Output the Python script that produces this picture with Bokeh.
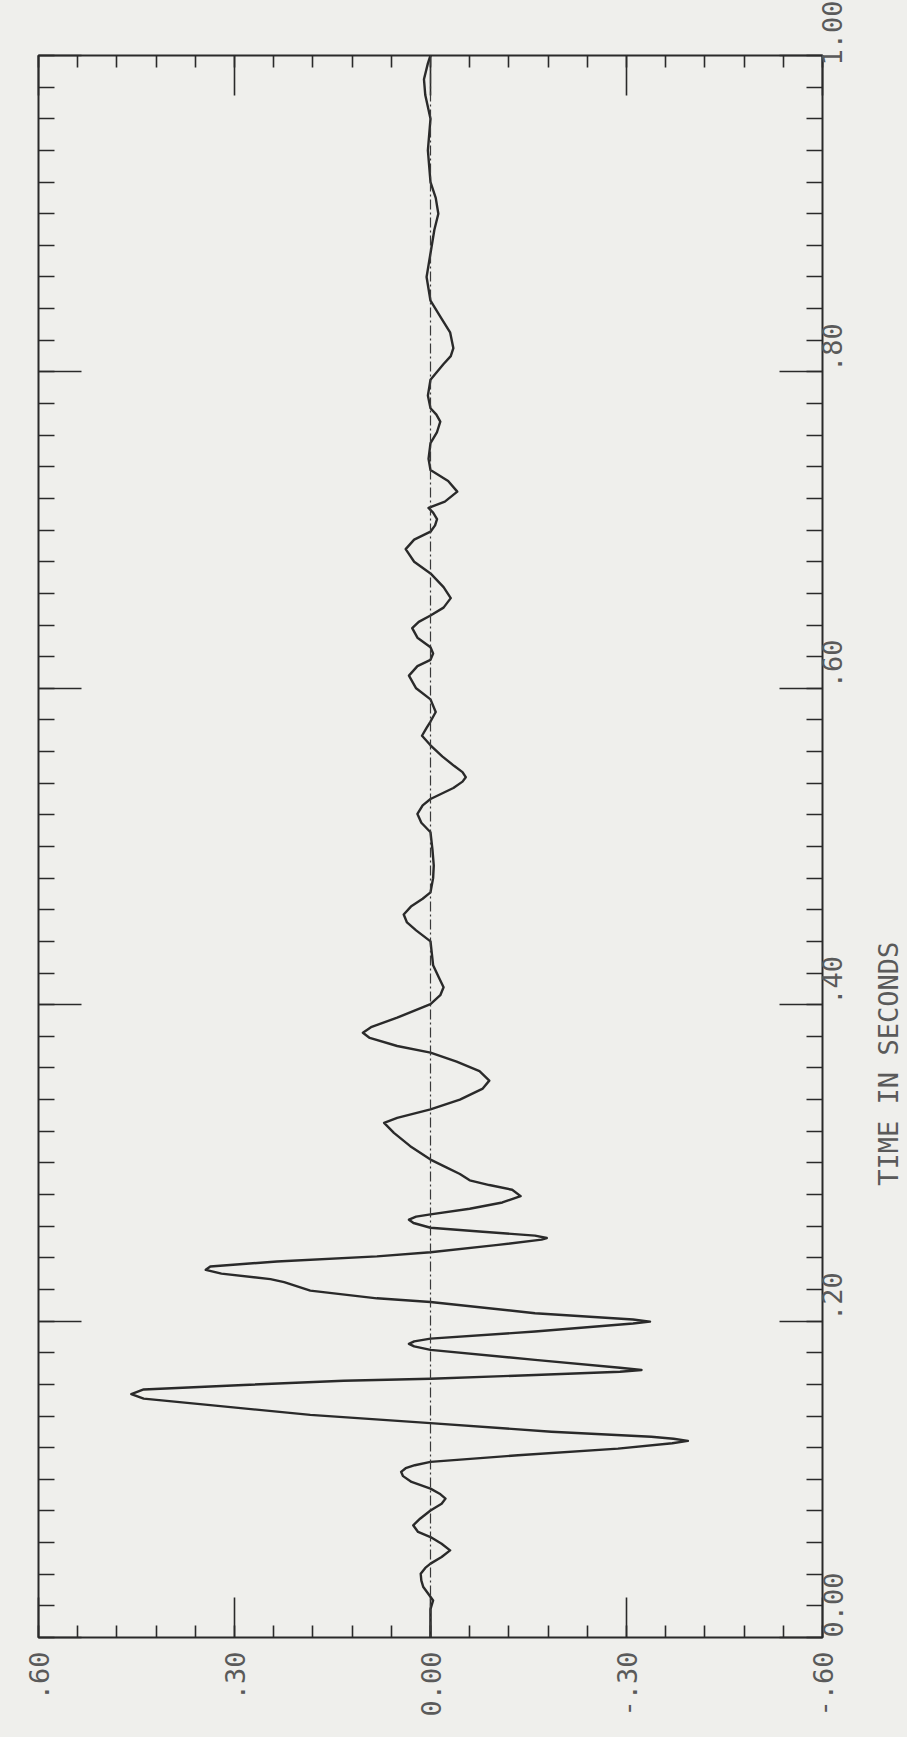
import math

from bokeh.core.properties import value
from bokeh.embed import file_html
from bokeh.layouts import row
from bokeh.models import FixedTicker, LinearAxis, Range1d, Span
from bokeh.plotting import figure
from bokeh.resources import INLINE

# Response trace: time (s) and amplitude, read point by point from the record
time_s = [
    0.0000, 0.0180, 0.0234, 0.0280, 0.0319, 0.0360, 0.0403, 0.0440, 0.0467, 0.0509,
    0.0551, 0.0593, 0.0635, 0.0667, 0.0709, 0.0751, 0.0803, 0.0845, 0.0878, 0.0909,
    0.0941, 0.0983, 0.1020, 0.1047, 0.1070, 0.1089, 0.1110, 0.1152, 0.1194, 0.1228,
    0.1243, 0.1256, 0.1269, 0.1301, 0.1355, 0.1407, 0.1469, 0.1510, 0.1538, 0.1568,
    0.1596, 0.1623, 0.1636, 0.1659, 0.1680, 0.1691, 0.1705, 0.1755, 0.1818, 0.1840,
    0.1856, 0.1872, 0.1889, 0.1934, 0.1985, 0.1997, 0.2010, 0.2050, 0.2121, 0.2144,
    0.2193, 0.2246, 0.2265, 0.2300, 0.2324, 0.2345, 0.2377, 0.2409, 0.2435, 0.2480,
    0.2515, 0.2525, 0.2540, 0.2565, 0.2590, 0.2620, 0.2641, 0.2660, 0.2675, 0.2710,
    0.2750, 0.2790, 0.2830, 0.2860, 0.2890, 0.2930, 0.2970, 0.3021, 0.3106, 0.3190,
    0.3253, 0.3285, 0.3338, 0.3400, 0.3470, 0.3520, 0.3580, 0.3640, 0.3697, 0.3739,
    0.3790, 0.3823, 0.3860, 0.3918, 0.4003, 0.4060, 0.4110, 0.4170, 0.4250, 0.4400,
    0.4470, 0.4520, 0.4570, 0.4620, 0.4670, 0.4710, 0.4800, 0.4880, 0.4980, 0.5090,
    0.5150, 0.5206, 0.5260, 0.5300, 0.5370, 0.5410, 0.5438, 0.5470, 0.5510, 0.5570,
    0.5640, 0.5700, 0.5750, 0.5790, 0.5850, 0.5930, 0.6000, 0.6080, 0.6140, 0.6180,
    0.6220, 0.6260, 0.6320, 0.6380, 0.6420, 0.6460, 0.6510, 0.6570, 0.6640, 0.6726,
    0.6800, 0.6880, 0.6940, 0.6990, 0.7030, 0.7070, 0.7110, 0.7140, 0.7180, 0.7243,
    0.7310, 0.7380, 0.7450, 0.7550, 0.7620, 0.7686, 0.7730, 0.7770, 0.7850, 0.7950,
    0.8050, 0.8100, 0.8150, 0.8250, 0.8350, 0.8450, 0.8600, 0.8750, 0.8900, 0.9000,
    0.9100, 0.9200, 0.9400, 0.9600, 0.9750, 0.9850, 0.9950, 1.0000,
]
amplitude = [
    0.000, 0.000, -0.004, 0.004, 0.011, 0.014, 0.015, 0.008, 0.000, -0.017,
    -0.030, -0.017, 0.000, 0.019, 0.0265, 0.016, 0.000, -0.017, -0.023, -0.014,
    0.000, 0.029, 0.042, 0.045, 0.038, 0.024, 0.000, -0.134, -0.287, -0.370,
    -0.394, -0.372, -0.338, -0.185, 0.000, 0.184, 0.337, 0.439, 0.458, 0.439,
    0.286, 0.133, 0.000, -0.160, -0.290, -0.323, -0.290, -0.160, 0.000, 0.025,
    0.033, 0.025, 0.000, -0.160, -0.310, -0.336, -0.310, -0.160, 0.000, 0.082,
    0.184, 0.224, 0.245, 0.320, 0.344, 0.337, 0.235, 0.082, 0.000, -0.100,
    -0.170, -0.178, -0.160, -0.080, 0.000, 0.026, 0.033, 0.022, 0.000, -0.060,
    -0.110, -0.138, -0.125, -0.090, -0.060, -0.045, -0.025, 0.000, 0.031, 0.056,
    0.071, 0.051, 0.000, -0.045, -0.080, -0.090, -0.075, -0.040, 0.000, 0.051,
    0.093, 0.1035, 0.090, 0.051, 0.000, -0.015, -0.020, -0.013, -0.004, 0.000,
    0.022, 0.036, 0.041, 0.030, 0.012, 0.000, -0.004, -0.005, -0.003, 0.000,
    0.014, 0.020, 0.012, 0.000, -0.035, -0.049, -0.054, -0.049, -0.036, -0.018,
    0.000, 0.013, 0.006, 0.000, -0.008, 0.000, 0.022, 0.033, 0.020, 0.000,
    -0.004, 0.000, 0.020, 0.028, 0.018, 0.000, -0.020, -0.031, -0.020, 0.000,
    0.025, 0.038, 0.025, 0.000, -0.007, -0.010, -0.004, 0.003, -0.022, -0.041,
    -0.027, 0.000, 0.003, 0.000, -0.010, -0.015, -0.009, 0.000, 0.004, 0.000,
    -0.020, -0.031, -0.035, -0.030, -0.015, 0.000, 0.006, 0.000, -0.006, -0.012,
    -0.008, 0.000, 0.004, 0.000, 0.008, 0.010, 0.004, 0.000,
]

# Axis ticks and their printed labels
time_ticks = [0.0, 0.2, 0.4, 0.6, 0.8, 1.0]
time_labels = ["0.00", ".20", ".40", ".60", ".80", "1.00"]
time_minor_ticks = [round(0.02 * i, 2) for i in range(51)]
value_ticks = [0.6, 0.3, 0.0, -0.3, -0.6]
value_labels = [".60", ".30", "0.00", "-.30", "-.60"]
value_minor_ticks = [round(-0.6 + 0.06 * i, 2) for i in range(21)]
time_title = "TIME IN SECONDS"
time_title_at = 0.335

PAPER = "#efefec"
INK = "#2a2a2a"
TEXT = "#5a5a5a"
FONT = "DejaVu Sans Mono"

HEIGHT = 1737
BORDER_TOP, BORDER_BOTTOM = 55, 100
FRAME_H = HEIGHT - BORDER_TOP - BORDER_BOTTOM

# Record is plotted sideways: amplitude across (positive to the left), time upward
p = figure(
    width=872, height=HEIGHT,
    x_range=Range1d(0.6, -0.6), y_range=Range1d(0.0, 1.0),
    x_axis_location="below", y_axis_location="right",
    min_border_left=38, min_border_right=50,
    min_border_top=BORDER_TOP, min_border_bottom=BORDER_BOTTOM,
    background_fill_color=PAPER, border_fill_color=PAPER,
    output_backend="svg", toolbar_location=None,
)
p.grid.visible = False
p.outline_line_color = INK
p.outline_line_width = 2


def style_axis(ax, ticks, minor, major_len, minor_len, labels=None, standoff=8):
    ax.ticker = FixedTicker(ticks=ticks, minor_ticks=minor)
    ax.axis_line_color = None
    ax.major_tick_in = major_len
    ax.major_tick_out = 0
    ax.minor_tick_in = minor_len
    ax.minor_tick_out = 0
    ax.major_tick_line_color = INK
    ax.major_tick_line_width = 1.6
    ax.minor_tick_line_color = INK
    ax.minor_tick_line_width = 1.6
    if labels is None:
        # tick marks only on this side
        ax.major_label_text_color = None
        ax.major_label_text_font_size = "8px"
    else:
        ax.major_label_overrides = dict(zip(ticks, labels))
        ax.major_label_orientation = math.pi / 2
        ax.major_label_text_font = FONT
        ax.major_label_text_font_size = "27px"
        ax.major_label_text_color = TEXT
        ax.major_label_standoff = standoff


# time axes on both long sides, labels on the right
style_axis(p.yaxis[0], time_ticks, time_minor_ticks, 43, 16, time_labels, standoff=10)
left_axis = LinearAxis()
p.add_layout(left_axis, "left")
style_axis(left_axis, time_ticks, time_minor_ticks, 43, 16)

# amplitude axes on both short sides, labels below
style_axis(p.xaxis[0], value_ticks, value_minor_ticks, 40, 12, value_labels, standoff=14)
top_axis = LinearAxis()
p.add_layout(top_axis, "above")
style_axis(top_axis, value_ticks, value_minor_ticks, 40, 12)

# zero reference line
p.add_layout(Span(location=0.0, dimension="height", line_color="#3a3a3a",
                  line_width=1.2, line_dash="10 3 2 3"))

p.line(amplitude, time_s, line_color=INK, line_width=2.4, line_join="round")

# narrow strip to the right carrying the time-axis title; its frame spans the
# full height, so its time range is widened by the main plot's borders
strip_range = Range1d(-BORDER_BOTTOM / FRAME_H, 1.0 + BORDER_TOP / FRAME_H)
t = figure(
    width=35, height=HEIGHT,
    x_range=Range1d(0, 35), y_range=strip_range,
    min_border_left=0, min_border_right=0, min_border_top=0, min_border_bottom=0,
    background_fill_color=PAPER, border_fill_color=PAPER,
    output_backend="svg", toolbar_location=None,
)
t.axis.visible = False
t.grid.visible = False
t.outline_line_color = None
t.text(x=[16], y=[time_title_at], text=[time_title], angle=math.pi / 2,
       text_align="center", text_baseline="middle",
       text_font=value(FONT), text_font_size="27px", text_color=TEXT)

layout = row(p, t, spacing=0)
html = file_html(layout, INLINE)
# paper-coloured page behind the two panels
html = html.replace("<head>", "<head><style>html, body { margin: 0; background: %s; }</style>" % PAPER, 1)
open("out.html", "w").write(html)
